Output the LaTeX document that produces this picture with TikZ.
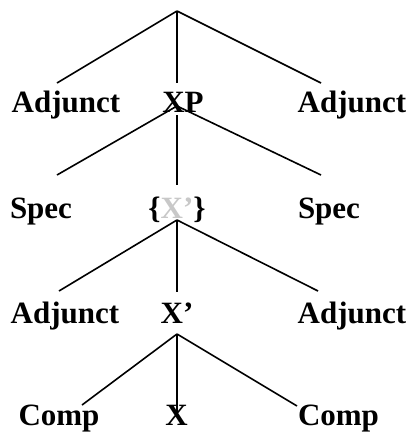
\documentclass[tikz,border=0pt]{standalone}
\usepackage{fontspec}
\setmainfont{Liberation Serif}
\begin{document}
\begin{tikzpicture}[x=1pt,y=-1pt,
  lbl/.style={anchor=base,inner sep=0pt,font=\fontsize{31}{31}\selectfont\bfseries},
  edge/.style={draw=black,line width=1.6pt}]
\useasboundingbox (0,0) rectangle (412,432);
\definecolor{lightgr}{RGB}{200,200,200}
% labels
\node[lbl] (adj1l) at (66,112) {Adjunct};
\node[lbl] (xp) at (183,112) {XP};
\node[lbl] (adj1r) at (352,112) {Adjunct};
\node[lbl] (specl) at (41,218) {Spec};
\node[lbl] (xbarbr) at (177,218) {\{\textcolor{lightgr}{X’}\}};
\node[lbl] (specr) at (329,218) {Spec};
\node[lbl] (adj2l) at (65,323) {Adjunct};
\node[lbl] (xbar) at (177,323) {X’};
\node[lbl] (adj2r) at (352,323) {Adjunct};
\node[lbl] (compl) at (59,425) {Comp};
\node[lbl] (x) at (176.5,425) {X};
\node[lbl] (compr) at (338.5,425) {Comp};
% connector ends
\coordinate (top) at (177,11);
\coordinate (t1) at (57,83);
\coordinate (t2) at (177,83);
\coordinate (t3) at (321,83);
\coordinate (xpa) at (177,106);
\coordinate (xpm) at (177,115);
\coordinate (s1) at (57,175);
\coordinate (s2) at (177,185);
\coordinate (s3) at (321,175);
\coordinate (xb) at (177,220);
\coordinate (a1) at (59,291);
\coordinate (a2) at (177,292);
\coordinate (a3) at (318,291);
\coordinate (xc) at (177,334);
\coordinate (c1) at (82,405);
\coordinate (c2) at (177,415);
\coordinate (c3) at (297,406);
% connectors
\draw[edge] (top) -- (t1);
\draw[edge] (top) -- (t2);
\draw[edge] (top) -- (t3);
\draw[edge] (xpa) -- (s1);
\draw[edge] (xpm) -- (s2);
\draw[edge] (xpa) -- (s3);
\draw[edge] (xb) -- (a1);
\draw[edge] (xb) -- (a2);
\draw[edge] (xb) -- (a3);
\draw[edge] (xc) -- (c1);
\draw[edge] (xc) -- (c2);
\draw[edge] (xc) -- (c3);
\end{tikzpicture}
\end{document}
